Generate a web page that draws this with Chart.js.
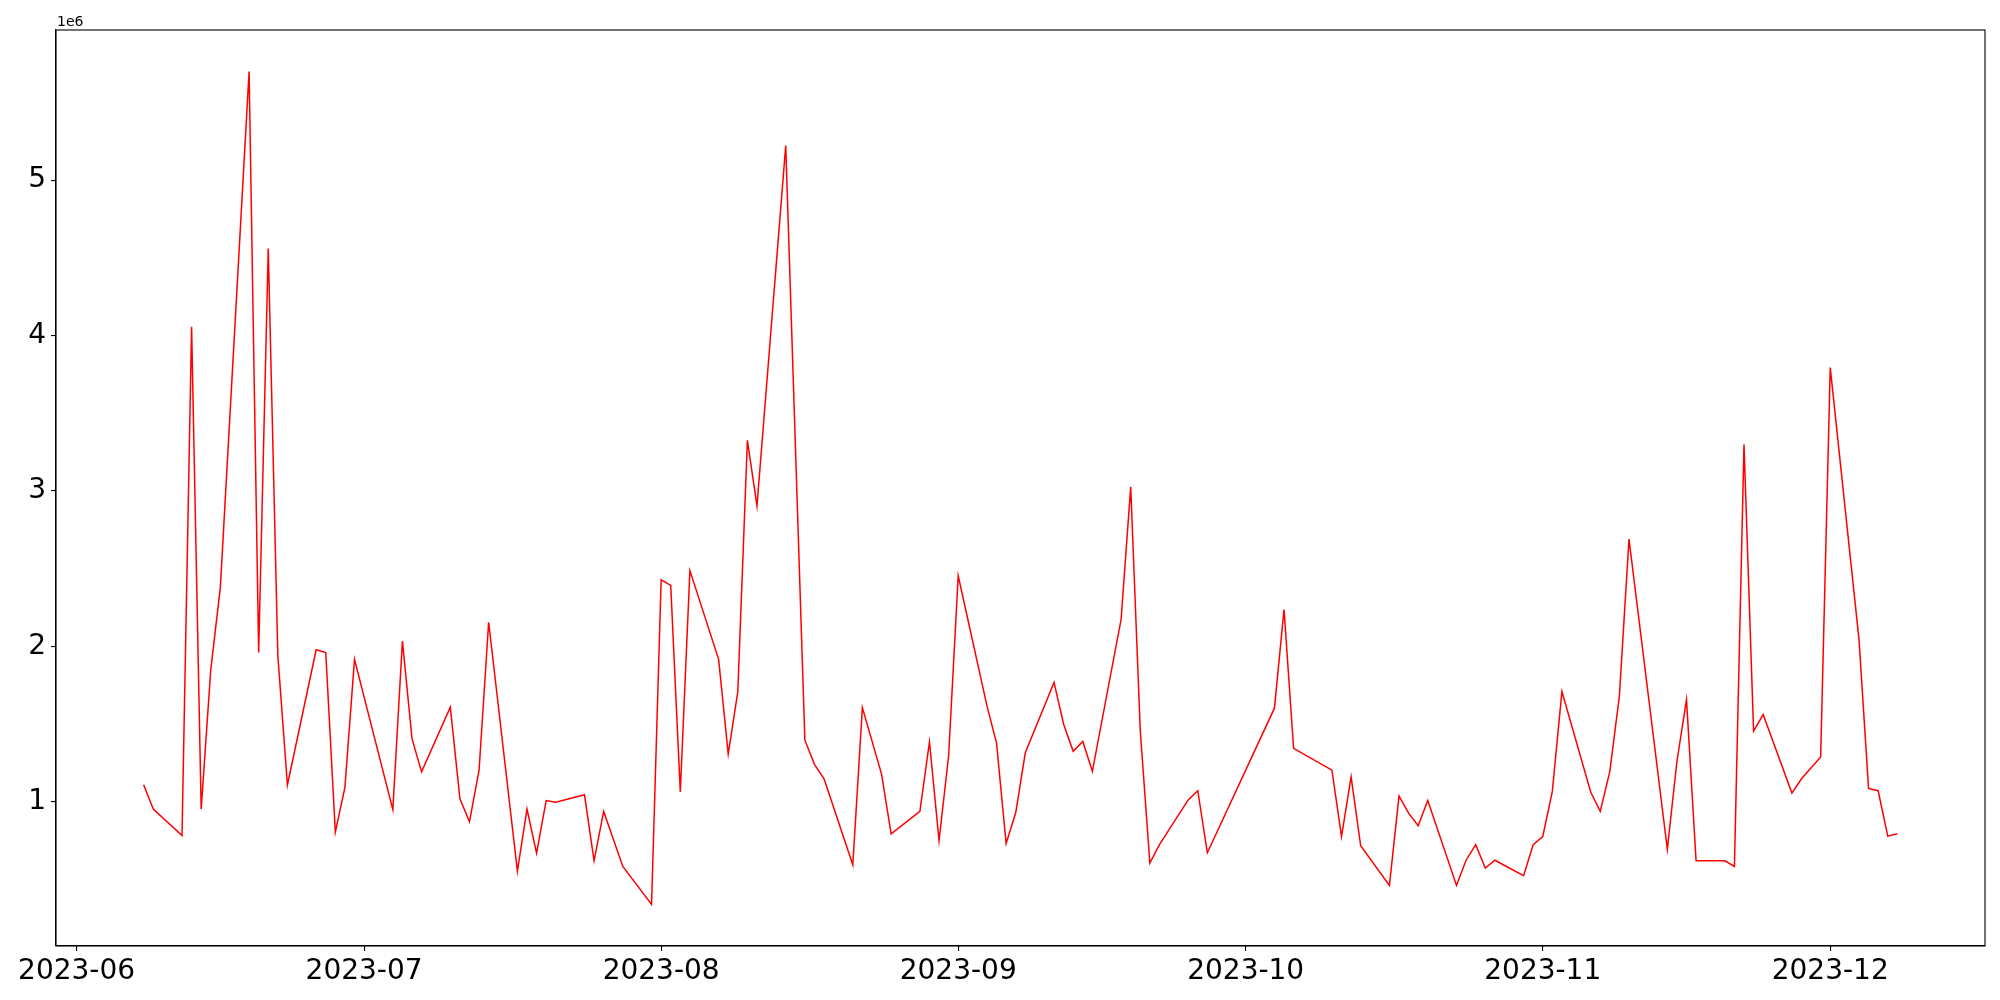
<!DOCTYPE html>
<html>
<head>
<meta charset="utf-8">
<script src="https://cdn.jsdelivr.net/npm/chart.js@4.4.0/dist/chart.umd.min.js"></script>
<style>
  html, body { margin: 0; padding: 0; background: #fff; }
</style>
</head>
<body>
<canvas id="volChart" width="2000" height="1000"></canvas>
<script>
const dates = [
  '2023-06-08', '2023-06-09', '2023-06-12', '2023-06-13', '2023-06-14', '2023-06-15', '2023-06-16',
  '2023-06-19', '2023-06-20', '2023-06-21', '2023-06-22', '2023-06-23', '2023-06-26', '2023-06-27',
  '2023-06-28', '2023-06-29', '2023-06-30',
  '2023-07-04', '2023-07-05', '2023-07-06', '2023-07-07', '2023-07-10', '2023-07-11', '2023-07-12',
  '2023-07-13', '2023-07-14', '2023-07-17', '2023-07-18', '2023-07-19', '2023-07-20', '2023-07-21',
  '2023-07-24', '2023-07-25', '2023-07-26', '2023-07-28', '2023-07-31',
  '2023-08-01', '2023-08-02', '2023-08-03', '2023-08-04', '2023-08-07', '2023-08-08', '2023-08-09',
  '2023-08-10', '2023-08-11', '2023-08-14', '2023-08-16', '2023-08-17', '2023-08-18', '2023-08-21',
  '2023-08-22', '2023-08-24', '2023-08-25', '2023-08-28', '2023-08-29', '2023-08-30', '2023-08-31',
  '2023-09-01', '2023-09-04', '2023-09-05', '2023-09-06', '2023-09-07', '2023-09-08', '2023-09-11',
  '2023-09-12', '2023-09-13', '2023-09-14', '2023-09-15', '2023-09-18', '2023-09-19', '2023-09-20',
  '2023-09-21', '2023-09-22', '2023-09-25', '2023-09-26', '2023-09-27',
  '2023-10-04', '2023-10-05', '2023-10-06', '2023-10-10', '2023-10-11', '2023-10-12', '2023-10-13',
  '2023-10-16', '2023-10-17', '2023-10-18', '2023-10-19', '2023-10-20', '2023-10-23', '2023-10-24',
  '2023-10-25', '2023-10-26', '2023-10-27', '2023-10-30', '2023-10-31',
  '2023-11-01', '2023-11-02', '2023-11-03', '2023-11-06', '2023-11-07', '2023-11-08', '2023-11-09',
  '2023-11-10', '2023-11-14', '2023-11-15', '2023-11-16', '2023-11-17', '2023-11-20', '2023-11-21',
  '2023-11-22', '2023-11-23', '2023-11-24', '2023-11-27', '2023-11-28', '2023-11-30',
  '2023-12-01', '2023-12-04', '2023-12-05', '2023-12-06', '2023-12-07', '2023-12-08',
];

const volumes = [
  1110000, 954000, 784000, 4056000, 954000, 1850000, 2380000,
  5698000, 1961000, 4560000, 1942000, 1109000, 1979000, 1961000,
  806000, 1094000, 1917000,
  950000, 2035000, 1407000, 1193000, 1610000, 1020000, 873000,
  1204000, 2156000, 555000, 954000, 670000, 1009000, 998000,
  1046000, 621000, 939000, 585000, 341000,
  2429000, 2393000, 1064000, 2488000, 1917000, 1308000, 1710000,
  3326000, 2905000, 5222000, 1397000, 1242000, 1149000, 596000,
  1607000, 1179000, 795000, 939000, 1386000, 751000, 1297000,
  2455000, 1618000, 1378000, 733000, 930000, 1316000, 1769000,
  1500000, 1326000, 1389000, 1197000, 2175000, 3027000, 1456000,
  607000, 725000, 1013000, 1072000, 673000,
  1603000, 2238000, 1345000, 1204000, 777000, 1161000, 718000,
  463000, 1039000, 928000, 847000, 1009000, 463000, 625000,
  725000, 574000, 625000, 526000, 725000,
  777000, 1068000, 1710000, 1064000, 939000, 1197000, 1684000,
  2691000, 695000, 1260000, 1658000, 621000, 621000, 585000,
  3300000, 1456000, 1562000, 1057000, 1149000, 1289000,
  3794000, 2046000, 1087000, 1072000, 780000, 795000,
];

const monthTicks = ['2023-06-01', '2023-07-01', '2023-08-01', '2023-09-01', '2023-10-01', '2023-11-01', '2023-12-01'];
const yTicks = [1, 2, 3, 4, 5];

const toMs = (s) => {
  const [y, m, d] = s.split('-').map(Number);
  return Date.UTC(y, m - 1, d);
};

const points = dates.map((d, i) => ({ x: toMs(d), y: volumes[i] }));

// 5% margins like matplotlib autoscale
const xFirst = points[0].x, xLast = points[points.length - 1].x;
const xPad = (xLast - xFirst) * 0.05;
const yMinV = Math.min(...volumes), yMaxV = Math.max(...volumes);
const yPad = (yMaxV - yMinV) * 0.05;

const frame = {
  id: 'frame',
  afterDraw(chart) {
    const { ctx, chartArea: a } = chart;
    ctx.save();
    ctx.strokeStyle = '#000';
    ctx.lineWidth = 1.1;
    ctx.strokeRect(a.left, a.top, a.right - a.left, a.bottom - a.top);
    ctx.fillStyle = '#000';
    ctx.font = '14px "DejaVu Sans"';
    ctx.textAlign = 'left';
    ctx.textBaseline = 'alphabetic';
    ctx.fillText('1e6', a.left + 1, a.top - 4);
    ctx.restore();
  },
};

const tickFont = { family: '"DejaVu Sans"', size: 28 };

new Chart(document.getElementById('volChart'), {
  type: 'line',
  data: {
    datasets: [{
      data: points,
      borderColor: 'rgb(255, 0, 0)',
      backgroundColor: 'rgb(255, 0, 0)',
      borderWidth: 1.5,
      pointRadius: 0,
      fill: false,
      tension: 0,
    }],
  },
  options: {
    responsive: false,
    animation: false,
    devicePixelRatio: 1,
    layout: { padding: { top: 30, right: 15, left: 0, bottom: 0 } },
    plugins: {
      legend: { display: false },
      tooltip: { enabled: false },
    },
    scales: {
      x: {
        type: 'linear',
        min: xFirst - xPad,
        max: xLast + xPad,
        afterBuildTicks: (scale) => {
          scale.ticks = monthTicks.map((s) => ({ value: toMs(s) }));
        },
        afterFit: (scale) => { scale.height = 54; },
        grid: { drawOnChartArea: false, drawTicks: true, tickLength: 5, color: '#000', lineWidth: 1.1 },
        border: { display: true, color: '#000', width: 1.1 },
        ticks: {
          color: '#000',
          font: tickFont,
          padding: 4,
          maxRotation: 0,
          autoSkip: false,
          callback: (v) => {
            const d = new Date(v);
            return d.getUTCFullYear() + '-' + String(d.getUTCMonth() + 1).padStart(2, '0');
          },
        },
      },
      y: {
        type: 'linear',
        min: yMinV - yPad,
        max: yMaxV + yPad,
        afterBuildTicks: (scale) => {
          scale.ticks = yTicks.map((v) => ({ value: v * 1e6 }));
        },
        afterFit: (scale) => { scale.width = 56; },
        grid: { drawOnChartArea: false, drawTicks: true, tickLength: 5, color: '#000', lineWidth: 1.1 },
        border: { display: true, color: '#000', width: 1.1 },
        ticks: {
          color: '#000',
          font: tickFont,
          padding: 5,
          callback: (v) => String(Math.round(v / 1e6)),
        },
      },
    },
  },
  plugins: [frame],
});
</script>
</body>
</html>
